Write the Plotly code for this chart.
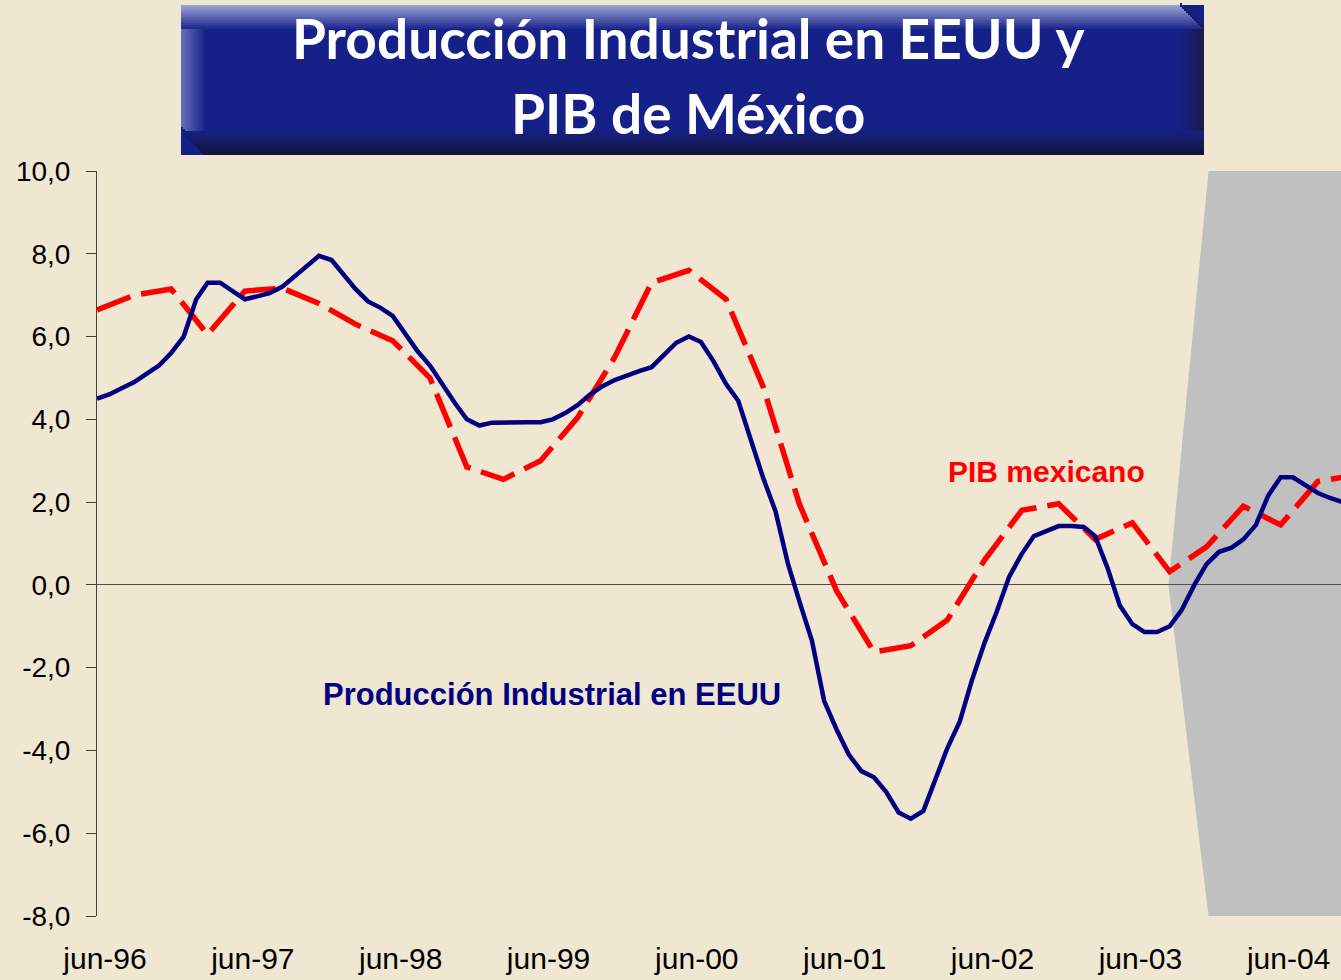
import pandas as pd
import plotly.graph_objects as go

# ---------------- data ----------------
ip_start = "1996-06-01"
us_ip = [4.5, 4.6, 4.75, 4.9, 5.1, 5.3, 5.6, 6.0, 6.9, 7.3,
         7.3, 7.1, 6.9, 6.97, 7.05, 7.2, 7.45, 7.7, 7.95, 7.85,
         7.5, 7.15, 6.85, 6.7, 6.5, 6.1, 5.65, 5.3, 4.85, 4.4,
         4.0, 3.85, 3.92, 3.93, 3.93, 3.93, 3.93, 4.0, 4.15, 4.35,
         4.6, 4.8, 4.95, 5.07, 5.17, 5.26, 5.58, 5.85, 6.0, 5.87,
         5.4, 4.85, 4.45, 3.5, 2.6, 1.78, 0.5, -0.4, -1.35, -2.8,
         -3.5, -4.1, -4.5, -4.65, -5.0, -5.5, -5.65, -5.46, -4.7, -3.95,
         -3.3, -2.3, -1.4, -0.65, 0.2, 0.75, 1.18, 1.3, 1.42, 1.42,
         1.4, 1.18, 0.4, -0.5, -0.95, -1.14, -1.14, -1.0, -0.6, 0.0,
         0.5, 0.8, 0.9, 1.1, 1.45, 2.15, 2.6, 2.6, 2.4, 2.22, 2.1, 2.0]
ip_dates = pd.date_range(ip_start, periods=len(us_ip), freq="MS")

mx_gdp = [6.64, 7.0, 7.15, 6.05, 7.1, 7.17, 6.8, 6.3, 5.9, 5.0,
          2.85, 2.55, 3.0, 4.05, 5.5, 7.3, 7.6, 6.9, 4.8, 1.95,
          -0.15, -1.62, -1.47, -0.85, 0.6, 1.8, 1.96, 1.1, 1.5, 0.32,
          0.92, 1.9, 1.45, 2.5, 2.65]
gdp_dates = pd.date_range(ip_start, periods=len(mx_gdp), freq="3MS")

tick_dates = ["1996-06-01", "1997-06-01", "1998-06-01", "1999-06-01", "2000-06-01",
              "2001-06-01", "2002-06-01", "2003-06-01", "2004-06-01"]
tick_text = ["jun-96", "jun-97", "jun-98", "jun-99", "jun-00",
             "jun-01", "jun-02", "jun-03", "jun-04"]
y_ticks = [-8, -6, -4, -2, 0, 2, 4, 6, 8, 10]
y_text = ["-8,0", "-6,0", "-4,0", "-2,0", "0,0", "2,0", "4,0", "6,0", "8,0", "10,0"]

# shaded (forecast) region boundary
shade_edge = "2003-12-06"
shade_mid = "2003-08-29"
shade_end = "2005-06-01"

W, H = 1341, 980
BG = "#EFE7D1"


def px(p):
    return p / W


def py(p):
    return 1 - p / H


fig = go.Figure()

fig.add_trace(go.Scatter(
    x=gdp_dates, y=mx_gdp, mode="lines",
    line=dict(color="#FF0000", width=5.5, dash="36px,11px"),
    hoverinfo="skip", showlegend=False))
fig.add_trace(go.Scatter(
    x=ip_dates, y=us_ip, mode="lines",
    line=dict(color="#000080", width=4.5),
    hoverinfo="skip", showlegend=False))

shapes = []
# grey shaded region (below zero line)
shapes.append(dict(
    type="path", xref="x", yref="y", layer="below",
    path=f"M {shade_edge},10 L {shade_mid},0 L {shade_edge},-8 L {shade_end},-8 L {shade_end},10 Z",
    fillcolor="#C0C0C0", line=dict(width=0)))

# title box with gradient edges
bx0, bx1, by0, by1 = 181, 1204, 5, 155
base = (22, 32, 137)
shapes.append(dict(type="rect", xref="paper", yref="paper",
                   x0=px(bx0), x1=px(bx1), y0=py(by1), y1=py(by0),
                   fillcolor="rgb(%d,%d,%d)" % base, line=dict(width=0), layer="above"))


def mix(c1, c2, t):
    return "rgb(%d,%d,%d)" % tuple(round(a + (b - a) * t) for a, b in zip(c1, c2))


def strip(x0, x1, y0, y1, color):
    shapes.append(dict(type="rect", xref="paper", yref="paper",
                       x0=px(x0), x1=px(x1), y0=py(y1), y1=py(y0),
                       fillcolor=color, line=dict(width=0), layer="above"))


n = 12
# left light edge
for i in range(n):
    strip(bx0 + i * 2, bx0 + i * 2 + 2, by0, by1 - 28 + i * 2, mix((100, 110, 180), base, i / n))
# right dark edge
for i in range(n):
    strip(bx1 - i * 2 - 2, bx1 - i * 2, by0 + 20 - i * 2, by1, mix((24, 28, 78), base, i / n))
# top light edge
for i in range(n):
    strip(bx0, bx1 - 24 + i * 2, by0 + i * 2, by0 + i * 2 + 2, mix((152, 160, 210), base, i / n))
# bottom dark edge
for i in range(n):
    strip(bx0 + 22 - i * 2, bx1, by1 - i * 2 - 2, by1 - i * 2, mix((18, 20, 55), base, i / n))

annotations = [
    dict(text="Producción Industrial en EEUU y", x=px(688), y=py(38), xref="paper", yref="paper",
         showarrow=False, xanchor="center", yanchor="middle",
         font=dict(family="Lato", size=55, color="white", weight="bold")),
    dict(text="PIB de México", x=px(688), y=py(113), xref="paper", yref="paper",
         showarrow=False, xanchor="center", yanchor="middle",
         font=dict(family="Lato", size=55, color="white", weight="bold")),
    dict(text="<b>PIB mexicano</b>", x=px(1046), y=py(471), xref="paper", yref="paper",
         showarrow=False, xanchor="center", yanchor="middle",
         font=dict(family="Liberation Sans", size=30, color="#FF0000")),
    dict(text="<b>Producción Industrial en EEUU</b>", x=px(552), y=py(694), xref="paper", yref="paper",
         showarrow=False, xanchor="center", yanchor="middle",
         font=dict(family="Liberation Sans", size=31, color="#000080")),
]

fig.update_layout(
    width=W, height=H, autosize=False,
    margin=dict(l=0, r=0, t=0, b=0, pad=0),
    paper_bgcolor=BG, plot_bgcolor=BG,
    shapes=shapes, annotations=annotations,
    showlegend=False,
    xaxis=dict(
        type="date", domain=[px(97), 1.0], automargin=False,
        range=["1996-06-01", "2004-10-28"],
        tickvals=tick_dates, ticktext=tick_text,
        ticks="", showline=False, showgrid=False, zeroline=False,
        ticklabelshift=8, ticklabelstandoff=22,
        tickfont=dict(family="Liberation Sans", size=30, color="black"),
    ),
    yaxis=dict(
        domain=[py(916), py(171)], automargin=False,
        range=[-8, 10],
        tickvals=y_ticks, ticktext=y_text,
        ticks="outside", ticklen=10, tickwidth=1, tickcolor="#404040",
        showline=True, linecolor="#404040", linewidth=1,
        showgrid=False, zeroline=True, zerolinecolor="#505050", zerolinewidth=1,
        ticklabelstandoff=10,
        tickfont=dict(family="Liberation Sans", size=28, color="black"),
    ),
)

fig.write_html("out.html", config={"displayModeBar": False},
               post_script="document.body.style.margin='0';")
